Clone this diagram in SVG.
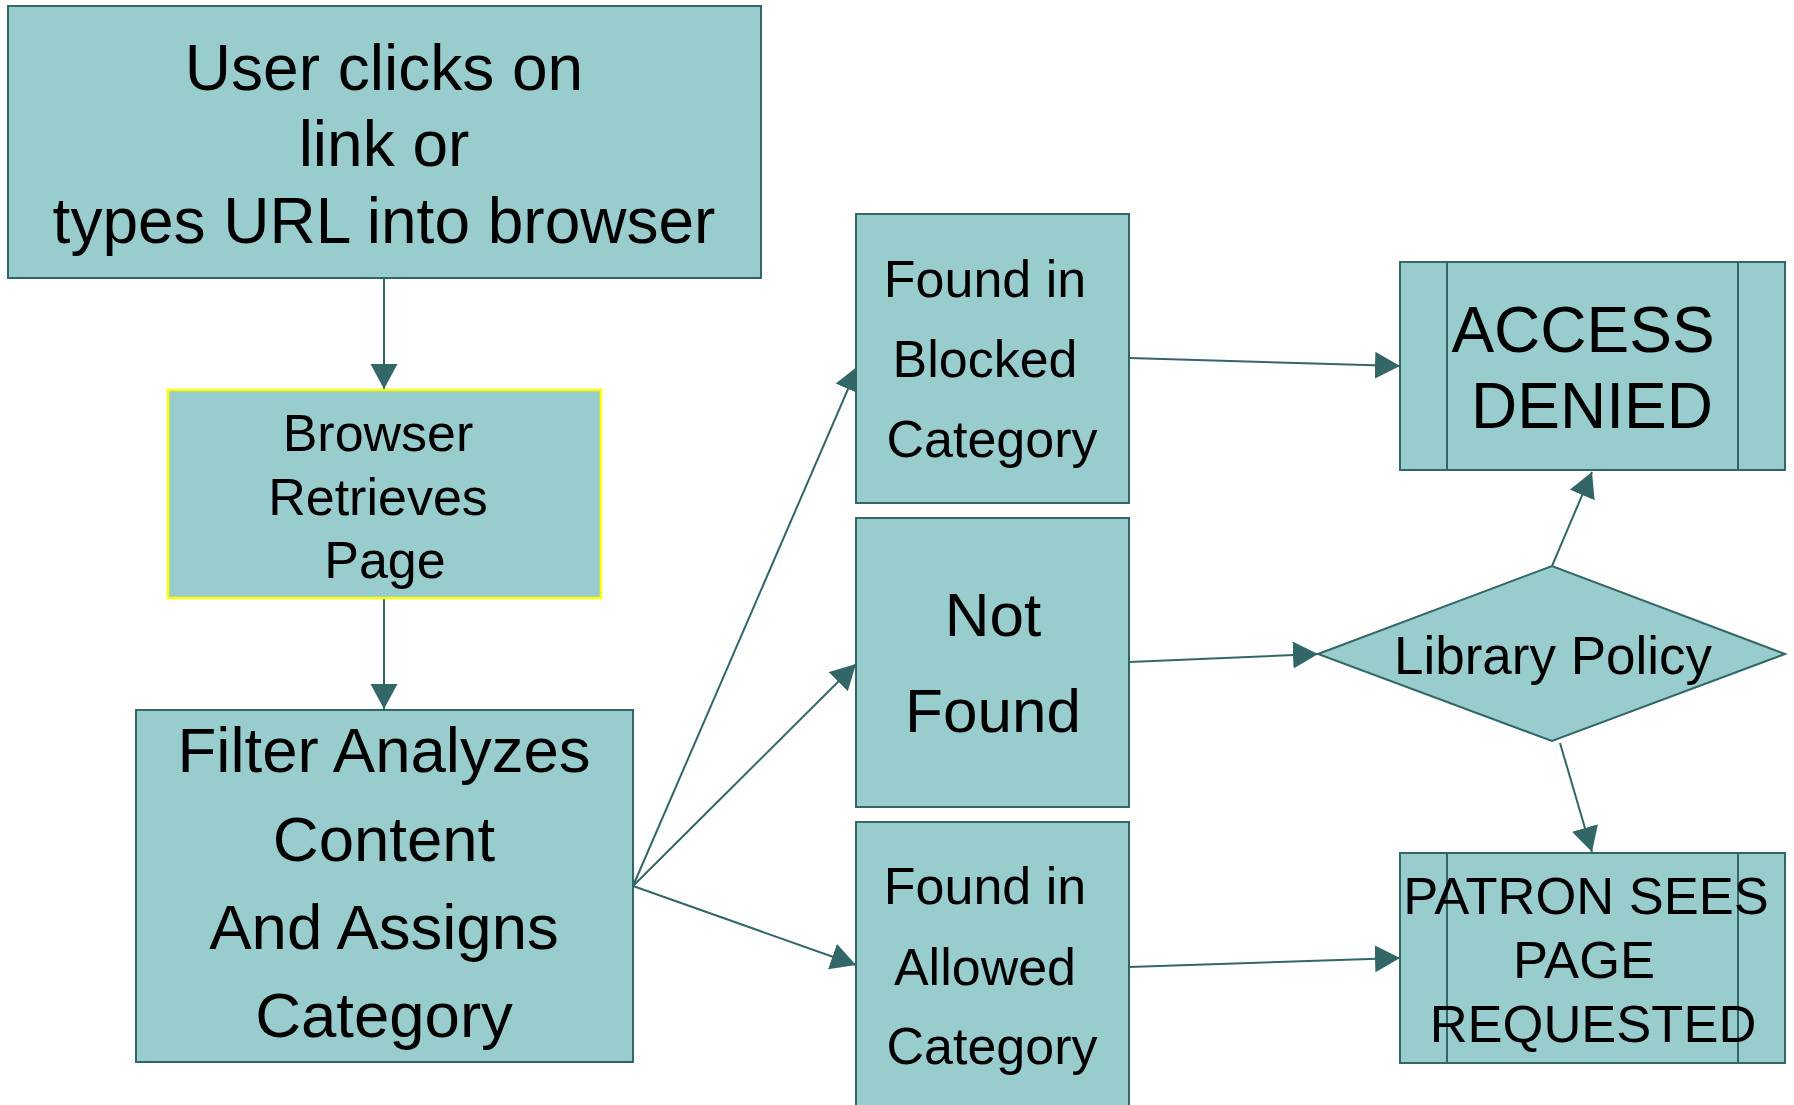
<svg xmlns="http://www.w3.org/2000/svg" width="1794" height="1105" viewBox="0 0 1794 1105">
<style>
.box{fill:#99CCCC;stroke:#336666;stroke-width:2}
.ybox{fill:#99CCCC;stroke:#FFFF00;stroke-width:2.5}
.sep{stroke:#336666;stroke-width:2;fill:none}
.c{stroke:#336666;stroke-width:2;fill:none;marker-end:url(#ah)}
text{font-family:"Liberation Sans",Arial,sans-serif;fill:#000;text-anchor:middle}
</style>
<defs>
<marker id="ah" markerUnits="userSpaceOnUse" markerWidth="26" markerHeight="28" refX="25" refY="13.5" orient="auto">
<path d="M0,0 L25,13.5 L0,27 z" fill="#336666"/>
</marker>
</defs>
<rect width="1794" height="1105" fill="#FFFFFF"/>
<g id="connectors">
<line class="c" x1="384" y1="278" x2="384" y2="389"/>
<line class="c" x1="384" y1="598" x2="384" y2="709"/>
<line class="c" x1="633" y1="886" x2="858" y2="366"/>
<line class="c" x1="633" y1="886" x2="856" y2="664"/>
<line class="c" x1="633" y1="886" x2="856" y2="965"/>
<line class="c" x1="1129" y1="358" x2="1400" y2="366"/>
<line class="c" x1="1129" y1="662" x2="1318" y2="654"/>
<line class="c" x1="1129" y1="967" x2="1400" y2="958"/>
<line class="c" x1="1552" y1="566" x2="1592" y2="472"/>
<line class="c" x1="1560" y1="743" x2="1592" y2="852"/>
</g>
<g id="user-clicks">
<rect class="box" x="8" y="6" width="753" height="272"/>
<text font-size="64"><tspan x="384" y="90">User clicks on</tspan><tspan x="384" y="166">link or</tspan><tspan x="384" y="243">types URL into browser</tspan></text>
</g>
<g id="browser-retrieves">
<rect class="ybox" x="168" y="390" width="433" height="208"/>
<text font-size="52"><tspan x="378" y="451">Browser</tspan><tspan x="378" y="515">Retrieves</tspan><tspan x="385" y="578">Page</tspan></text>
</g>
<g id="filter-analyzes">
<rect class="box" x="136" y="710" width="497" height="352"/>
<text font-size="63.5"><tspan x="384" y="772">Filter Analyzes</tspan><tspan x="384" y="861">Content</tspan><tspan x="384" y="949">And Assigns</tspan><tspan x="384" y="1037">Category</tspan></text>
</g>
<g id="found-blocked">
<rect class="box" x="856" y="214" width="273" height="289"/>
<text font-size="52"><tspan x="985" y="297">Found in</tspan><tspan x="985" y="377">Blocked</tspan><tspan x="992" y="457">Category</tspan></text>
</g>
<g id="not-found">
<rect class="box" x="856" y="518" width="273" height="289"/>
<text font-size="62"><tspan x="993" y="636">Not</tspan><tspan x="993" y="732">Found</tspan></text>
</g>
<g id="found-allowed">
<rect class="box" x="856" y="822" width="273" height="300"/>
<text font-size="52"><tspan x="985" y="904">Found in</tspan><tspan x="985" y="985">Allowed</tspan><tspan x="992" y="1064">Category</tspan></text>
</g>
<g id="library-policy">
<polygon class="box" points="1318,654 1552,566 1785,654 1552,741"/>
<text font-size="53" x="1553" y="674">Library Policy</text>
</g>
<g id="access-denied">
<rect class="box" x="1400" y="262" width="385" height="208"/>
<line class="sep" x1="1447" y1="262" x2="1447" y2="470"/>
<line class="sep" x1="1738" y1="262" x2="1738" y2="470"/>
<text font-size="64"><tspan x="1583" y="352">ACCESS</tspan><tspan x="1592" y="428">DENIED</tspan></text>
</g>
<g id="patron-sees">
<rect class="box" x="1400" y="853" width="385" height="210"/>
<line class="sep" x1="1447" y1="853" x2="1447" y2="1063"/>
<line class="sep" x1="1738" y1="853" x2="1738" y2="1063"/>
<text font-size="52.5"><tspan x="1586" y="914">PATRON SEES</tspan><tspan x="1584" y="978">PAGE</tspan><tspan x="1593" y="1042">REQUESTED</tspan></text>
</g>
</svg>
